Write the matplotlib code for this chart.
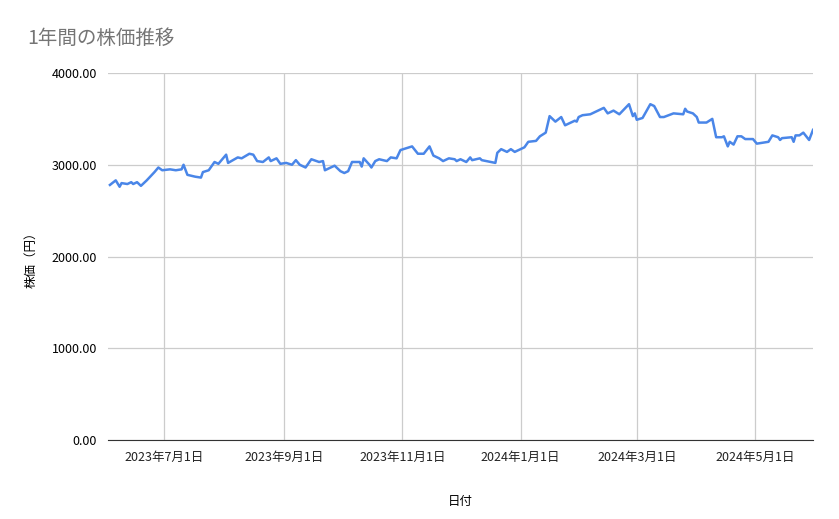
import matplotlib
matplotlib.use("Agg")
import matplotlib.pyplot as plt
import pandas as pd

plt.rcParams["font.family"] = ["Noto Sans CJK JP", "DejaVu Sans"]

# days since 2023-07-01
DAYS = [-28, -25, -23, -22, -19, -17, -16, -14, -12, -9, -5, -3, -1, 3, 6, 9, 10, 12, 16, 19,
        20, 23, 26, 28, 32, 33, 38, 40, 44, 46, 48, 51, 54, 55, 58, 60, 63, 66, 68, 70,
        73, 76, 80, 82, 83, 88, 91, 93, 95, 97, 101, 102, 103, 106, 107, 109, 111, 115, 117, 120,
        122, 128, 131, 134, 137, 139, 142, 144, 147, 150, 151, 153, 156, 158, 159, 163, 164, 171, 172, 174,
        177, 179, 181, 186, 188, 192, 194, 197, 199, 202, 205, 207, 212, 213, 214, 216, 220, 223, 227, 229,
        232, 235, 240, 242, 243, 244, 247, 251, 253, 256, 258, 263, 268, 269, 270, 273, 275, 276, 280, 283,
        285, 288, 289, 291, 292, 294, 296, 298, 300, 304, 306, 312, 314, 317, 318, 319, 324, 325, 326, 328,
        330, 333, 335]
PRICES = [2780, 2830, 2760, 2800, 2790, 2810, 2790, 2810, 2770, 2830, 2920, 2970, 2940, 2950, 2940, 2950, 3000, 2890, 2870, 2860,
          2920, 2940, 3030, 3010, 3110, 3020, 3080, 3070, 3120, 3110, 3040, 3030, 3080, 3040, 3070, 3010, 3020, 3000, 3050, 3000,
          2970, 3060, 3030, 3040, 2940, 2990, 2930, 2910, 2930, 3030, 3030, 2980, 3070, 3000, 2970, 3040, 3060, 3040, 3080, 3070,
          3160, 3200, 3120, 3120, 3200, 3100, 3070, 3040, 3070, 3060, 3040, 3060, 3030, 3080, 3050, 3070, 3050, 3020, 3130, 3170,
          3140, 3170, 3140, 3190, 3250, 3260, 3310, 3350, 3530, 3470, 3520, 3430, 3480, 3470, 3520, 3540, 3550, 3580, 3620, 3560,
          3590, 3550, 3660, 3530, 3560, 3490, 3510, 3660, 3640, 3520, 3520, 3560, 3550, 3610, 3580, 3560, 3520, 3460, 3460, 3500,
          3300, 3300, 3310, 3200, 3250, 3220, 3310, 3310, 3280, 3280, 3230, 3250, 3320, 3300, 3270, 3290, 3300, 3250, 3320, 3320,
          3350, 3270, 3380]
TICK_DATES = ["2023-07-01", "2023-09-01", "2023-11-01", "2024-01-01", "2024-03-01", "2024-05-01"]
TICK_LABELS = ["2023年7月1日", "2023年9月1日", "2023年11月1日", "2024年1月1日", "2024年3月1日", "2024年5月1日"]
YTICKS = [0, 1000, 2000, 3000, 4000]

base = pd.Timestamp("2023-07-01")
dates = base + pd.to_timedelta(DAYS, unit="D")

fig = plt.figure(figsize=(8.39, 5.19), dpi=100)
ax = fig.add_axes([108 / 839, 1 - 440 / 519, 705 / 839, 367 / 519])
ax.plot(dates, PRICES, color="#4a86e8", linewidth=1.8)

ax.set_xlim(base + pd.Timedelta(days=-29), base + pd.Timedelta(days=335))
ax.set_ylim(0, 4000)
ax.set_yticks(YTICKS)
ax.set_yticklabels([f"{v:.2f}" for v in YTICKS], fontsize=9)
ax.set_xticks(pd.to_datetime(TICK_DATES))
ax.set_xticklabels(TICK_LABELS, fontsize=9, color="#222222")
ax.grid(True, color="#cccccc", linewidth=0.9)
ax.set_axisbelow(True)
for s in ["top", "right", "left"]:
    ax.spines[s].set_visible(False)
ax.spines["bottom"].set_color("#333333")
ax.tick_params(length=0, pad=8)

ax.set_ylabel("株価（円）", fontsize=9, labelpad=10)
ax.set_xlabel("日付", fontsize=9, labelpad=22)
fig.text(27 / 839, 1 - 38 / 519, "1年間の株価推移", fontsize=14, color="#757575",
         va="center", ha="left")

fig.savefig("out.png", dpi=100, facecolor="white")
